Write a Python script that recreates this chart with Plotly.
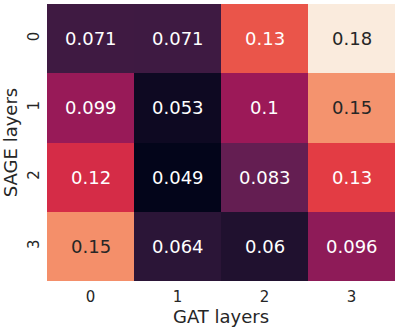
import plotly.graph_objects as go

# GAT layers (columns) x SAGE layers (rows)
gat_layers = [0, 1, 2, 3]
sage_layers = [0, 1, 2, 3]

row_sage0 = [0.0712, 0.0708, 0.134, 0.181]
row_sage1 = [0.099, 0.053, 0.1004, 0.152]
row_sage2 = [0.12, 0.049, 0.083, 0.127]
row_sage3 = [0.151, 0.064, 0.060, 0.096]

z = [row_sage0, row_sage1, row_sage2, row_sage3]

# seaborn "rocket"
rocket = [
    [0.0, "#03051a"],
    [1 / 7, "#35193e"],
    [2 / 7, "#701f57"],
    [3 / 7, "#ad1759"],
    [4 / 7, "#e13342"],
    [5 / 7, "#f37651"],
    [6 / 7, "#f6b48f"],
    [1.0, "#faebdd"],
]

FONT = "DejaVu Sans"
TXT = "#262626"

fig = go.Figure(go.Heatmap(
    z=z,
    x=gat_layers,
    y=sage_layers,
    colorscale=rocket,
    showscale=False,
    hoverinfo="skip",
))

# cell labels, dark text on light cells like seaborn
for i, sage in enumerate(sage_layers):
    for j, gat in enumerate(gat_layers):
        v = z[i][j]
        fig.add_annotation(
            x=gat, y=sage, text=f"{v:.2g}", showarrow=False,
            font=dict(family=FONT, size=18, color=TXT if v >= 0.14 else "white"),
        )

fig.update_xaxes(
    tickvals=gat_layers, ticktext=[str(g) for g in gat_layers],
    ticks="outside", ticklen=2, tickcolor="rgba(0,0,0,0)",
    tickfont=dict(family=FONT, size=15, color=TXT),
    title=dict(text="GAT layers", font=dict(family=FONT, size=18, color=TXT), standoff=3),
    showgrid=False, zeroline=False, automargin=False,
)
fig.update_yaxes(
    tickvals=sage_layers, ticktext=[str(s) for s in sage_layers],
    autorange="reversed", tickangle=-90,
    ticks="outside", ticklen=1, tickcolor="rgba(0,0,0,0)",
    tickfont=dict(family=FONT, size=15, color=TXT),
    title=dict(text="SAGE layers", font=dict(family=FONT, size=18, color=TXT), standoff=5),
    showgrid=False, zeroline=False, automargin=False,
)

fig.update_layout(
    width=400, height=328,
    margin=dict(l=47, r=5, t=4, b=47),
    paper_bgcolor="white", plot_bgcolor="white",
)

# drop the default body margin so the figure sits at the page corner
fig.write_html("out.html", config={"displayModeBar": False},
               post_script="document.body.style.margin='0';")
